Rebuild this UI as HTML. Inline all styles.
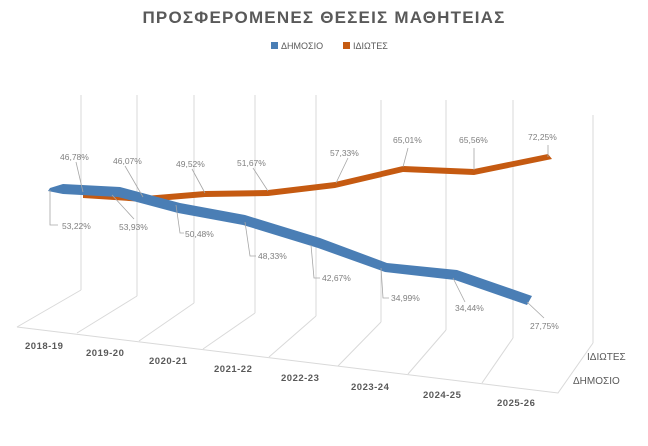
<!DOCTYPE html>
<html><head><meta charset="utf-8"><style>
body{margin:0;background:#fff;}
svg{display:block;font-family:"Liberation Sans",sans-serif;}
</style></head><body>
<svg width="648" height="446" viewBox="0 0 648 446">
<text x="324" y="23" text-anchor="middle" font-size="17" font-weight="bold" fill="#595959" letter-spacing="1.2">ΠΡΟΣΦΕΡΟΜΕΝΕΣ ΘΕΣΕΙΣ ΜΑΘΗΤΕΙΑΣ</text>
<rect x="271" y="42" width="7" height="7" fill="#4a7eb5"/>
<text x="281" y="49" font-size="9" fill="#595959">ΔΗΜΟΣΙΟ</text>
<rect x="343" y="42" width="7" height="7" fill="#c55a11"/>
<text x="353" y="49" font-size="9" fill="#595959">ΙΔΙΩΤΕΣ</text>
<g stroke="#d9d9d9" stroke-width="1" fill="none">
<path d="M81 290V95 M137 296V95 M194 303V95 M255 313V95 M316 316V95 M381 322V100 M446 330V100 M513 338V100 M593 343V115"/>
<path d="M17 327L558 393L593 343"/>
<path d="M17 327L81 290 M77 333L137 296 M139 341L194 303 M203 349L255 313 M269 357L316 316 M338 366L381 322 M408 374L446 330 M482 383L513 338"/>
</g>
<!-- orange -->
<polygon points="83,192 145,196 205,191 268,190 335,182 403,166 474,169 548,154 552,159 474,175 403,172 335,188 268,196 205,197 145,202 83,198" fill="#c55a11"/>
<!-- blue -->
<polygon points="50,188 63,184 120,187 180,203 245,215 320,238 387,263 457,270 532,296 527,305 455,280 385,272 318,248 243,225 178,213 118,197 63,194 48,191" fill="#4a7eb5"/>
<g stroke="#a6a6a6" stroke-width="0.8" fill="none">
<path d="M76 162L83 192 M125 166L143 197 M192 169L205 193 M253 168L268 191 M348 158L336 183 M408 148L403 167 M474 148L474 170 M548 145L548 157"/>
<path d="M50 190V225H58 M112 195L134 219 M176 205L180 233H184 M245 222L250 256H256 M311 245L314 278H320 M381 268L383 298H389 M453 278L465 302 M527 302L544 318"/>
</g>
<g font-size="8.5" fill="#7f7f7f">
<text x="60" y="160">46,78%</text><text x="113" y="164">46,07%</text><text x="176" y="167">49,52%</text><text x="237" y="166">51,67%</text>
<text x="330" y="156">57,33%</text><text x="393" y="143">65,01%</text><text x="459" y="143">65,56%</text><text x="528" y="140">72,25%</text>
<text x="62" y="229">53,22%</text><text x="119" y="230">53,93%</text><text x="185" y="237">50,48%</text><text x="258" y="259">48,33%</text>
<text x="322" y="281">42,67%</text><text x="391" y="301">34,99%</text><text x="455" y="311">34,44%</text><text x="530" y="329">27,75%</text>
</g>
<g font-size="9.5" font-weight="bold" fill="#595959" letter-spacing="0.5">
<text x="25" y="349">2018-19</text><text x="86" y="356">2019-20</text><text x="149" y="364">2020-21</text><text x="214" y="372">2021-22</text>
<text x="281" y="381">2022-23</text><text x="351" y="390">2023-24</text><text x="423" y="398">2024-25</text><text x="497" y="406">2025-26</text>
</g>
<g font-size="10" fill="#595959">
<text x="587" y="360">ΙΔΙΩΤΕΣ</text><text x="573" y="384">ΔΗΜΟΣΙΟ</text>
</g>
</svg>
</body></html>
